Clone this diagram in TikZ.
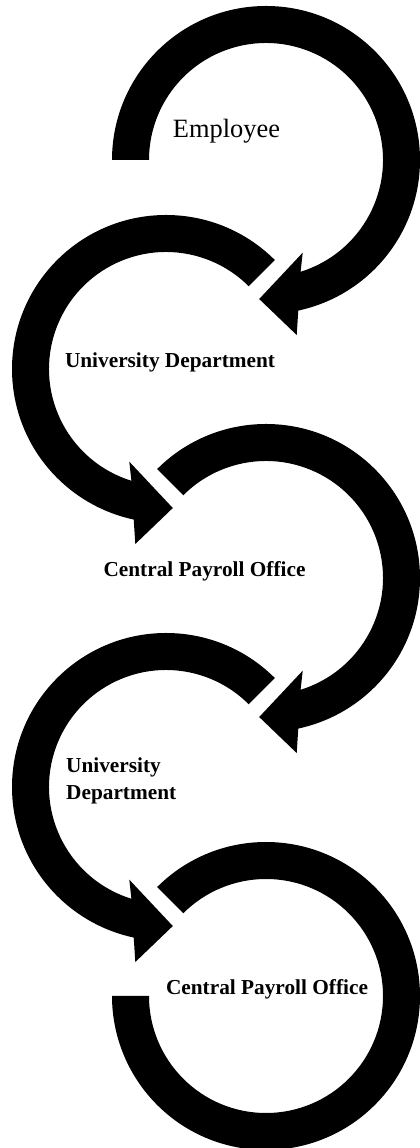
\documentclass[tikz,border=0pt]{standalone}
\usepackage{fontspec}
\setmainfont{Liberation Serif}
\usepackage{tikz}

\tikzset{
  pics/loop arrow/.style={code={
    \fill (#1:154) arc[start angle=#1, end angle=-77.9, radius=154]
      -- (-80.05:177.7) -- (-92.8:139.2) -- (-68.4:99.7)
      -- (-72.8:117) arc[start angle=-72.8, end angle=#1, radius=117] -- cycle;
  }},
  steplabel/.style={inner sep=0pt, font=\bfseries\fontsize{21.3}{27.3}\selectfont},
}

\begin{document}
\begin{tikzpicture}[x=1pt, y=1pt]
   \useasboundingbox (0,0) rectangle (420,1148);
   \foreach \name/\x/\y in {c1/266/988, c2/166/779, c3/266/570, c4/166/361, c5/266/152} {
    \coordinate (\name) at (\x,\y);
   }
   \foreach \name/\s/\a in {c1/1/180, c2/-1/135, c3/1/135, c4/-1/135} {
    \pic[xscale=\s] at (\name) {loop arrow=\a};
   }
   \fill[shift={(c5)}] (135:154) arc[start angle=135, end angle=-180, radius=154]
     -- (-180:117) arc[start angle=-180, end angle=135, radius=117] -- cycle;

   \node[inner sep=0pt, anchor=base, font=\fontsize{26.4}{30}\selectfont] (employee) at (226.5,1010) {Employee};
   \node[steplabel, anchor=base] (dept1) at (170,780) {University Department};
   \node[steplabel, anchor=base] (payroll1) at (204.5,571.3) {Central Payroll Office};
   \node[steplabel, anchor=base west, align=left] (dept2) at (66,348) {University\\Department};
   \node[steplabel, anchor=base] (payroll2) at (267,153) {Central Payroll Office};
\end{tikzpicture}
\end{document}
